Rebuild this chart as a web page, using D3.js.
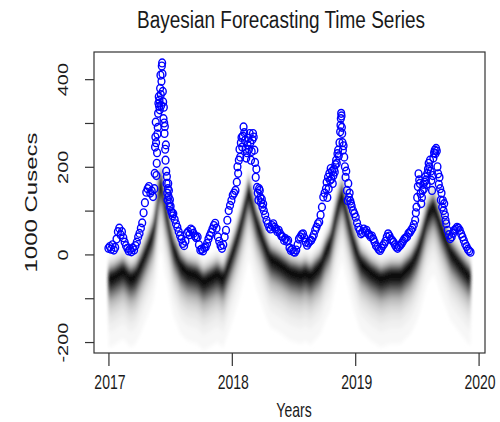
<!DOCTYPE html>
<html>
<head>
<meta charset="utf-8">
<script src="https://cdn.jsdelivr.net/npm/d3@7"></script>
<style>
  body { margin: 0; background: #fff; }
  svg { display: block; }
  text { font-family: "Liberation Sans", Arial, sans-serif; fill: #1a1a1a; }
</style>
</head>
<body>
<svg id="chart" width="500" height="422"></svg>
<script>
// Observed river flow (1000 cusecs), by day counted from 1 Jan 2017
const obsDays = [
  0,4,8,12,16,20,24,28,32,36,40,44,48,52,56,60,64,68,72,76,80,84,88,92,96,100,104,108,112,116,120,124,128,132,136,
  137,138,139,140,141,142,143,144,145,146,147,148,149,150,151,152,153,154,155,156,157,158,159,160,161,162,163,164,165,166,167,168,169,170,171,172,173,174,175,176,177,178,179,180,181,182,184,186,188,190,
  192,196,200,204,208,212,216,220,224,228,232,236,240,244,248,252,256,260,264,268,272,276,280,284,288,292,296,300,304,308,312,316,320,324,328,332,336,340,344,348,352,356,360,364,368,372,376,380,
  382,384,386,388,390,392,394,396,398,400,402,404,406,408,410,412,414,416,418,420,422,424,426,428,430,432,434,436,438,440,442,444,446,448,450,452,454,456,458,460,
  464,468,472,476,480,484,488,492,496,500,504,508,512,516,520,524,528,532,536,540,544,548,552,556,560,564,568,572,576,580,584,588,592,596,600,604,608,612,616,620,624,628,632,636,640,
  644,646,648,650,652,654,656,658,660,662,664,666,668,670,672,674,676,678,680,682,684,686,687,688,689,690,691,692,693,694,696,698,700,702,704,706,708,710,712,714,716,718,720,724,
  728,732,736,740,744,748,752,756,760,764,768,772,776,780,784,788,792,796,800,804,808,812,816,820,824,828,832,836,840,844,848,852,856,860,864,868,872,876,880,884,888,892,896,900,904,908,
  910,912,914,916,918,920,922,924,926,928,930,932,934,936,938,940,942,944,946,948,950,952,954,956,958,960,962,964,966,968,970,972,974,976,978,980,982,984,986,988,990,992,994,996,998,1000,
  1004,1008,1012,1016,1020,1024,1028,1032,1036,1040,1044,1048,1052,1056,1060,1064,1068,1072
];
const obsFlow = [
  14,18,12,22,10,16,35,52,60,45,52,38,28,20,14,8,12,6,15,10,20,28,40,48,60,72,95,118,142,150,155,140,145,132,150,
  185,245,268,302,255,180,208,232,275,290,322,345,360,338,352,330,379,409,365,340,395,430,437,412,372,348,310,336,300,276,292,240,215,250,190,162,178,140,124,150,162,132,146,118,108,125,110,98,95,88,
  93,80,70,62,52,43,35,25,20,30,48,52,45,58,55,48,42,38,40,22,10,12,8,15,17,25,35,43,50,58,66,71,60,40,30,20,14,22,40,55,78,100,112,123,135,140,146,165,
  200,185,215,240,222,255,267,245,270,291,278,260,240,220,232,250,265,240,276,255,215,235,262,276,268,238,210,176,195,153,140,124,150,146,130,118,126,108,115,100,
  90,78,70,62,58,66,70,62,58,52,55,48,42,40,32,36,30,32,15,9,12,6,5,10,22,35,40,45,47,38,28,21,26,30,32,38,45,55,62,70,74,90,108,131,140,
  150,165,130,176,150,185,169,196,172,190,162,180,195,188,205,215,208,230,238,225,255,280,295,310,322,316,290,276,255,238,248,222,200,176,190,146,123,162,130,140,122,116,110,100,
  93,85,72,62,55,47,50,58,52,55,48,45,40,42,35,28,20,17,12,9,14,20,24,30,40,47,42,35,32,28,22,17,14,18,21,25,30,35,38,40,48,50,55,60,68,78,
  95,108,130,155,184,170,162,139,116,130,146,160,150,165,177,170,160,185,195,208,200,215,190,169,146,180,220,232,238,230,242,236,200,184,160,176,150,124,140,108,123,100,116,90,78,70,
  55,45,36,40,48,55,58,62,60,55,47,40,32,24,18,12,8,5
];

// Posterior forecast centre line, by day from 1 Jan 2017
const fanDays = [0,15,30,44,65,80,95,115,133,142,148,154,160,166,174,184,193,203,213,233,263,281,302,322,340,361,376,391,406,415,421,429,438,450,465,480,509,539,569,583,598,628,643,657,677,692,699,707,726,746,776,806,835,865,895,912,924,944,962,971,983,1013,1042,1066,1072];
const fanMid  = [-52,-48,-40,-33,-52,-45,-21,17,55,100,150,169,160,120,93,50,17,0,-21,-37,-44,-59,-50,-40,-52,-6,30,70,120,150,135,110,80,55,20,-6,-20,-37,-44,-38,-46,-21,10,32,108,146,120,93,32,-14,-37,-52,-44,-44,-21,5,32,93,115,100,70,9,-21,-44,-48];

// Spread of the forecast draws around the centre line (outer to inner)
const bandBelow = [160,125,105,88,74,62,52,45,38,32,26,20,14];
const bandAbove = [52,45,40,35,30,26,22,19,16,13,10,7,4];
const bandShade = [0.03,0.06,0.1,0.15,0.22,0.3,0.4,0.5,0.6,0.7,0.8,0.88,0.95];

const yearTicks = [2017, 2018, 2019, 2020];
const flowTicks = [-200, -100, 0, 100, 200, 300, 400];
const flowLabels = [-200, 0, 200, 400];

const box = { left: 94, right: 485, top: 52, bottom: 353 };
const x = d3.scaleLinear().domain([2016.883, 2020.052]).range([box.left, box.right]);
const y = d3.scaleLinear().domain([-225, 462]).range([box.bottom, box.top]);
const toYear = d => 2017 + d / 365.25;

const svg = d3.select("#chart");
svg.append("rect").attr("width", 500).attr("height", 422).attr("fill", "#fff");

const defs = svg.append("defs");
defs.append("clipPath").attr("id", "plotClip")
  .append("rect")
  .attr("x", box.left).attr("y", box.top)
  .attr("width", box.right - box.left).attr("height", box.bottom - box.top);
defs.append("filter").attr("id", "soften")
  .attr("x", "-5%").attr("y", "-5%").attr("width", "110%").attr("height", "110%")
  .append("feGaussianBlur").attr("stdDeviation", "1.4 2");

// Forecast fan: nested bands, lightest outside, darkest at the centre
const fan = fanDays.map((d, i) => ({ day: d, mid: fanMid[i] }));
const fanG = svg.append("g").attr("clip-path", "url(#plotClip)")
  .append("g").attr("filter", "url(#soften)");
bandShade.forEach((s, k) => {
  const area = d3.area()
    .x(d => x(toYear(d.day)))
    .y0(d => y(d.mid - bandBelow[k]))
    .y1(d => y(d.mid + bandAbove[k]));
  const v = Math.round(255 * (1 - s));
  fanG.append("path").datum(fan)
    .attr("d", area)
    .attr("fill", d3.rgb(v, v, v));
});

// Observed values as open circles
const obs = obsDays.map((d, i) => ({ day: d, flow: obsFlow[i] }));
svg.append("g").selectAll("ellipse").data(obs).join("ellipse")
  .attr("cx", d => x(toYear(d.day)))
  .attr("cy", d => y(d.flow))
  .attr("rx", 3.4).attr("ry", 3.9)
  .attr("fill", "none")
  .attr("stroke", "#0000ff")
  .attr("stroke-width", 1.4);

// Plot frame
svg.append("rect")
  .attr("x", box.left).attr("y", box.top)
  .attr("width", box.right - box.left).attr("height", box.bottom - box.top)
  .attr("fill", "none").attr("stroke", "#333").attr("stroke-width", 1.2);

// Bottom axis
const gx = svg.append("g").attr("transform", `translate(0,${box.bottom})`)
  .call(d3.axisBottom(x).tickValues(yearTicks).tickFormat(d3.format("d")).tickSize(13).tickSizeOuter(0));
gx.select(".domain").remove();
gx.selectAll("line").attr("stroke", "#333").attr("stroke-width", 1.2);
gx.selectAll("text")
  .attr("y", 0).attr("dy", null)
  .attr("font-size", 20)
  .attr("transform", "translate(1,36) scale(0.7,1)");

// Left axis
const gy = svg.append("g").attr("transform", `translate(${box.left},0)`)
  .call(d3.axisLeft(y).tickValues(flowTicks).tickSize(9).tickSizeOuter(0)
    .tickFormat(d => flowLabels.includes(d) ? String(d) : ""));
gy.select(".domain").remove();
gy.selectAll("line").attr("stroke", "#333").attr("stroke-width", 1.2);
gy.selectAll("text")
  .attr("x", 0).attr("dy", null)
  .attr("text-anchor", "middle")
  .attr("font-size", 20)
  .attr("transform", "translate(-26,0) rotate(-90) scale(1,0.7)");

// Titles
svg.append("text")
  .attr("x", 281).attr("y", 28)
  .attr("text-anchor", "middle")
  .attr("font-size", 23)
  .attr("textLength", 288).attr("lengthAdjust", "spacingAndGlyphs")
  .text("Bayesian Forecasting Time Series");

svg.append("text")
  .attr("text-anchor", "middle")
  .attr("font-size", 20)
  .attr("transform", "translate(294,416.5) scale(0.7,1)")
  .text("Years");

svg.append("text")
  .attr("text-anchor", "middle")
  .attr("font-size", 24)
  .attr("transform", "translate(36.7,202.5) rotate(-90) scale(1,0.7)")
  .text("1000 Cusecs");
</script>
</body>
</html>
